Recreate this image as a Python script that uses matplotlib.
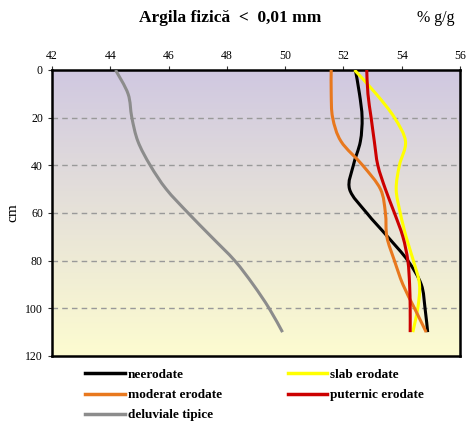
import numpy as np
import matplotlib
matplotlib.use("Agg")
from matplotlib import pyplot as plt
from matplotlib.path import Path
from matplotlib.patches import PathPatch
from matplotlib.lines import Line2D

depth = [0, 10, 20, 30, 40, 50, 60, 70, 80, 90, 100, 110]

neerodate = [52.41, 52.55, 52.64, 52.58, 52.34, 52.21, 52.80, 53.52, 54.21, 54.67, 54.80, 54.89]
slab = [52.38, 53.12, 53.75, 54.13, 53.92, 53.81, 53.95, 54.15, 54.40, 54.61, 54.55, 54.38]
moderat = [51.58, 51.58, 51.63, 51.92, 52.66, 53.27, 53.44, 53.49, 53.75, 54.04, 54.44, 54.84]
puternic = [52.80, 52.84, 52.95, 53.06, 53.18, 53.44, 53.75, 54.04, 54.21, 54.27, 54.29, 54.29]
deluviale = [44.18, 44.61, 44.74, 44.95, 45.37, 45.92, 46.67, 47.47, 48.27, 48.90, 49.45, 49.91]

labels = ["neerodate", "slab erodate", "moderat erodate", "puternic erodate", "deluviale tipice"]
series = [neerodate, slab, moderat, puternic, deluviale]
colors = ["#000000", "#ffff00", "#e8781e", "#cc0000", "#8c8c8c"]

x_ticks = [42, 44, 46, 48, 50, 52, 54, 56]
y_ticks = [0, 20, 40, 60, 80, 100, 120]

SERIF = "Liberation Serif"


def smooth_path(xs, ys):
  # Excel-like smoothed line: Catmull-Rom turned into cubic Bezier pieces
  pts = np.column_stack([xs, ys])
  verts = [pts[0]]
  codes = [Path.MOVETO]
  n = len(pts)
  for i in range(n - 1):
    p0 = pts[i - 1] if i > 0 else pts[i]
    p1 = pts[i]
    p2 = pts[i + 1]
    p3 = pts[i + 2] if i + 2 < n else pts[i + 1]
    c1 = p1 + (p2 - p0) / 6.0
    c2 = p2 - (p3 - p1) / 6.0
    verts += [c1, c2, p2]
    codes += [Path.CURVE4] * 3
  return Path(verts, codes)


fig = plt.figure(figsize=(4.74, 4.25), dpi=100)
ax = fig.add_axes([0.1097, 0.1624, 0.8608, 0.6729])

# vertical gradient background
top = np.array([208, 200, 225]) / 255.0
bot = np.array([253, 252, 208]) / 255.0
t = np.linspace(0, 1, 256)[:, None]
grad = (top[None, :] * (1 - t) + bot[None, :] * t)[:, None, :]
ax.imshow(grad, extent=[42, 56, 120, 0], aspect="auto", zorder=0)

ax.set_xlim(42, 56)
ax.set_ylim(120, 0)

for yy in y_ticks[1:-1]:
  ax.axhline(yy, color="#999999", lw=1, ls=(0, (4, 3)), zorder=1)

handles = {}
for lab, vals, col in zip(labels, series, colors):
  patch = PathPatch(smooth_path(vals, depth), facecolor="none", edgecolor=col, lw=2.2, zorder=3, capstyle="butt")
  ax.add_patch(patch)
  handles[lab] = Line2D([], [], color=col, lw=2.5)

ax.xaxis.tick_top()
ax.set_xticks(x_ticks)
ax.set_yticks(y_ticks)
ax.tick_params(axis="both", direction="out", length=3, width=0.8, labelsize=8.5, color="#333333")
ax.tick_params(axis="x", pad=3)
for lbl in ax.get_xticklabels() + ax.get_yticklabels():
  lbl.set_fontfamily(SERIF)
for s in ax.spines.values():
  s.set_linewidth(1.8)
ax.set_ylabel("cm", fontfamily=SERIF, fontsize=11, labelpad=4)

fig.text(0.485, 0.958, "Argila fizică  <  0,01 mm", ha="center", va="center",
         fontfamily=SERIF, fontweight="bold", fontsize=12.5)
fig.text(0.92, 0.958, "% g/g", ha="center", va="center", fontfamily=SERIF, fontsize=11.5)

order = ["neerodate", "moderat erodate", "deluviale tipice", "slab erodate", "puternic erodate"]
leg = fig.legend([handles[o] for o in order], order, ncol=2, loc="upper left",
                 bbox_to_anchor=(0.155, 0.16), frameon=False, handlelength=3.0,
                 handletextpad=0.2, columnspacing=5.0, labelspacing=0.6,
                 prop={"family": SERIF, "weight": "bold", "size": 9.5})

fig.savefig("out.png", dpi=100)
